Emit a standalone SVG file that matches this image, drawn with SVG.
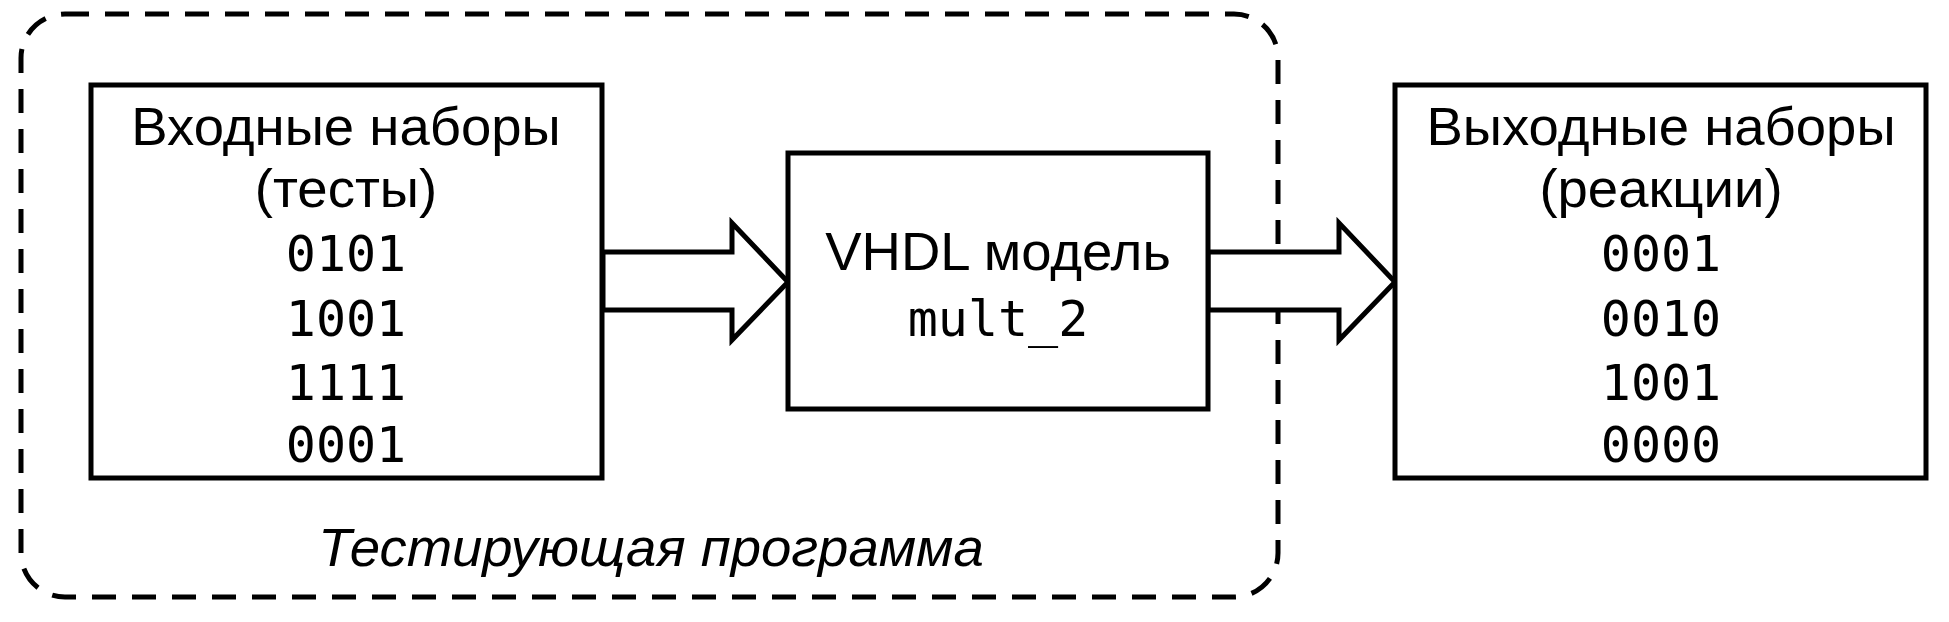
<svg xmlns="http://www.w3.org/2000/svg" width="1949" height="622" viewBox="0 0 1949 622">
<style>
.box{fill:#fff;stroke:#000;stroke-width:5}
.arrow{fill:#fff;stroke:#000;stroke-width:5;stroke-linejoin:miter}
.frame{fill:none;stroke:#000;stroke-width:5;stroke-dasharray:24 16}
.sans{font-family:"Liberation Sans",Arial,sans-serif;font-size:54.5px;fill:#000;text-anchor:middle}
.mono{font-family:"DejaVu Sans Mono","Liberation Mono",monospace;font-size:50px;fill:#000;text-anchor:middle}
.ital{font-family:"Liberation Sans",Arial,sans-serif;font-size:54.5px;font-style:italic;fill:#000;text-anchor:middle}
</style>
<rect width="1949" height="622" fill="#fff"/>
<g id="frame">
<rect class="frame" x="21" y="14" width="1257" height="583" rx="44" ry="44"/>
<text class="ital" x="651" y="566">Тестирующая программа</text>
</g>
<g id="connectors">
<polygon class="arrow" points="603,252 732,252 732,223 788,282 732,340 732,310 603,310"/>
<polygon class="arrow" points="1208,252 1339,252 1339,223 1395,282 1339,340 1339,310 1208,310"/>
</g>
<g id="inputs">
<rect class="box" x="91" y="85" width="511" height="393"/>
<text class="sans" x="346" y="145">Входные наборы</text>
<text class="sans" x="346" y="207">(тесты)</text>
<text class="mono" x="346" y="271">0101</text>
<text class="mono" x="346" y="336">1001</text>
<text class="mono" x="346" y="400">1111</text>
<text class="mono" x="346" y="462">0001</text>
</g>
<g id="model">
<rect class="box" x="788" y="153" width="420" height="256"/>
<text class="sans" x="998" y="270">VHDL модель</text>
<text class="mono" x="998" y="336">mult_2</text>
</g>
<g id="outputs">
<rect class="box" x="1395" y="85" width="531" height="393"/>
<text class="sans" x="1661" y="145">Выходные наборы</text>
<text class="sans" x="1661" y="207">(реакции)</text>
<text class="mono" x="1661" y="271">0001</text>
<text class="mono" x="1661" y="336">0010</text>
<text class="mono" x="1661" y="400">1001</text>
<text class="mono" x="1661" y="462">0000</text>
</g>
</svg>
